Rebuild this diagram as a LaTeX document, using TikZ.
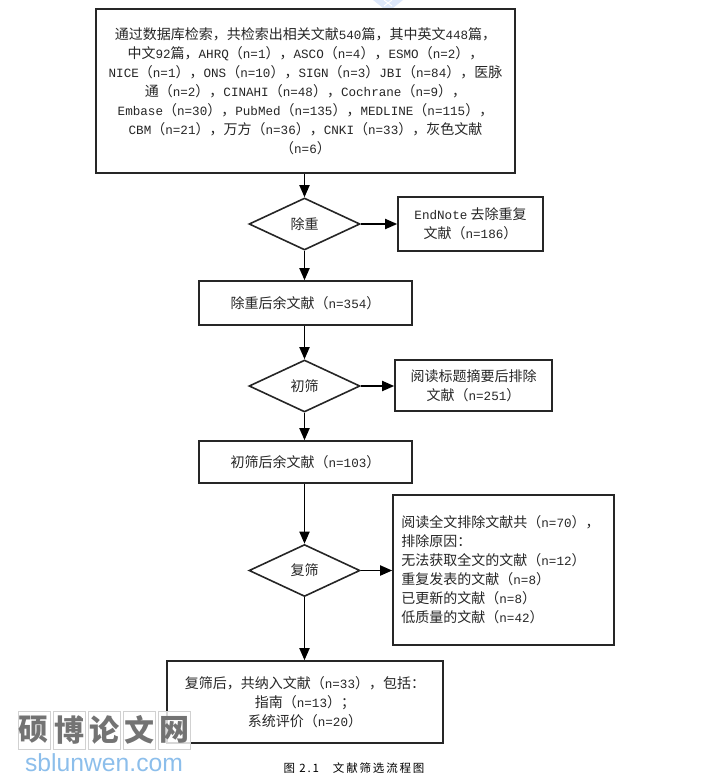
\documentclass[tikz,border=0pt]{standalone}
\usepackage{fontspec}
\setmainfont{Noto Sans CJK SC}
\newfontfamily\latinfont{Liberation Mono}[Scale=0.9]
\newfontfamily\capfont{Noto Sans CJK SC}[LetterSpace=16]
\newfontfamily\markfont{Liberation Sans}
\newcommand{\en}[1]{{\latinfont #1}}
\definecolor{sitecolor}{RGB}{140,190,235}
\definecolor{iconcolor}{RGB}{222,232,250}
\usetikzlibrary{arrows.meta,shapes.geometric}

\begin{document}
\begin{tikzpicture}[
    x=1pt, y=-1pt,
    font=\fontsize{14}{19}\selectfont,
    text=black!85,
    boxnode/.style={draw=black!85, line width=1.6pt, inner sep=0pt, align=center, fill=white},
    choice/.style={draw=black!85, diamond, line width=1.6pt, inner sep=0pt, aspect=2.13,
      minimum width=111pt, minimum height=52pt},
    flow/.style={draw=black, line width=1.8pt, -{Triangle[length=12pt,width=10pt]}},
    cell/.style={draw=black!18, line width=0.6pt, fill=white, fill opacity=0.82,
      minimum width=32pt, minimum height=38pt, inner sep=0pt, text opacity=1}
  ]
  % 固定画布大小
  \useasboundingbox (0,0) rectangle (722,782);
  % 顶部残留图标
  \fill[iconcolor] (373,0) -- (403,0) -- (393,8) -- (383,8) -- cycle;
  \draw[white, line width=1pt] (384,0) -- (392,6) (392,0) -- (384,6);

  % 左侧主流程
  \node[boxnode, minimum width=419pt, minimum height=164pt] (search) at (305.5,91) {%
    通过数据库检索，共检索出相关文献\en{540}篇，其中英文\en{448}篇，\\
    中文\en{92}篇，\en{AHRQ}（\en{n=1}），\en{ASCO}（\en{n=4}），\en{ESMO}（\en{n=2}），\\
    \en{NICE}（\en{n=1}），\en{ONS}（\en{n=10}），\en{SIGN}（\en{n=3}）\en{JBI}（\en{n=84}），医脉\\
    通（\en{n=2}），\en{CINAHI}（\en{n=48}），\en{Cochrane}（\en{n=9}），\\
    \en{Embase}（\en{n=30}），\en{PubMed}（\en{n=135}），\en{MEDLINE}（\en{n=115}），\\
    \en{CBM}（\en{n=21}），万方（\en{n=36}），\en{CNKI}（\en{n=33}），灰色文献\\
    （\en{n=6}）};
  \node[choice] (dedup) at (304.5,224) {除重};
  \node[boxnode, minimum width=213pt, minimum height=44pt] (afterdedup) at (305.5,303) {除重后余文献（\en{n=354}）};
  \node[choice] (first) at (304.5,386) {初筛};
  \node[boxnode, minimum width=213pt, minimum height=42pt] (afterfirst) at (305.5,462) {初筛后余文献（\en{n=103}）};
  \node[choice] (second) at (304.5,570.5) {复筛};
  \node[boxnode, minimum width=276pt, minimum height=82pt] (final) at (305,702) {%
    复筛后，共纳入文献（\en{n=33}），包括：\\
    指南（\en{n=13}）；\\
    系统评价（\en{n=20}）};

  % 右侧排除框
  \node[boxnode, minimum width=145pt, minimum height=54pt] (dup) at (470.5,224) {\en{EndNote} 去除重复\\文献（\en{n=186}）};
  \node[boxnode, minimum width=157pt, minimum height=51pt] (title) at (473.5,385.5) {阅读标题摘要后排除\\文献（\en{n=251}）};
  \node[boxnode, minimum width=221pt, minimum height=150pt, align=left] (full) at (503.5,570) {%
    阅读全文排除文献共（\en{n=70}），\hspace*{6pt}\\
    排除原因：\\
    无法获取全文的文献（\en{n=12}）\\
    重复发表的文献（\en{n=8}）\\
    已更新的文献（\en{n=8}）\\
    低质量的文献（\en{n=42}）};

  % 连接线
  \draw[flow] (search.south -| dedup.north) -- (dedup.north);
  \draw[flow] (dedup.south) -- (dedup.south |- afterdedup.north);
  \draw[flow] (afterdedup.south -| first.north) -- (first.north);
  \draw[flow] (first.south) -- (first.south |- afterfirst.north);
  \draw[flow] (afterfirst.south -| second.north) -- (second.north);
  \draw[flow] (second.south) -- (second.south |- final.north);
  \draw[flow] (dedup.east) -- (dup.west |- dedup.east);
  \draw[flow] (first.east) -- (title.west |- first.east);
  \draw[flow] (second.east) -- (full.west |- second.east);

  % 图题
  \node[font=\fontsize{11.5}{14}\selectfont, text=black] (caption) at (354,768) {\capfont 图 2.1\hspace{1.2em}文献筛选流程图};

  % 水印
  \foreach \i/\ch in {0/硕,1/博,2/论,3/文,4/网}
    \node[cell, text=black!55, font=\fontsize{30}{32}\selectfont\bfseries] (mark\i) at (34+35*\i,730) {\ch};
  \node[font=\fontsize{24.7}{28}\markfont, text=sitecolor] (site) at (104,763) {sblunwen.com};
\end{tikzpicture}
\end{document}
